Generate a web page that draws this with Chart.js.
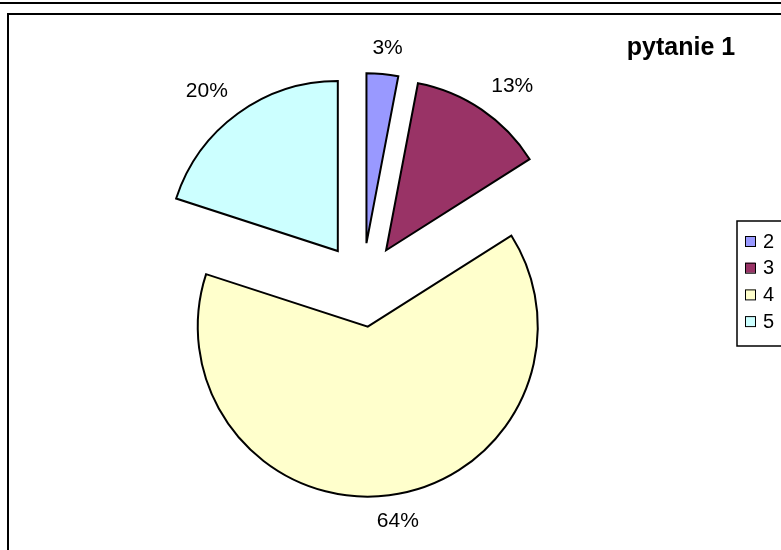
<!DOCTYPE html>
<html>
<head>
<meta charset="utf-8">
<script src="https://cdn.jsdelivr.net/npm/chart.js@4/dist/chart.umd.min.js"></script>
<style>
    body { margin: 0; background: #fff; }
    #wrap { position: relative; width: 781px; height: 550px; }
</style>
</head>
<body>
<div id="wrap"><canvas id="chart" width="781" height="550"></canvas></div>
<script>
// dane z wykresu
const categories = ['2', '3', '4', '5'];
const values = [3, 13, 64, 20];
const colors = ['#9999FF', '#993366', '#FFFFCC', '#CCFFFF'];
const chartTitle = 'pytanie 1';

const pieRadius = 170;
const explode = 42;

// rama wokół wykresu (jak w Excelu)
const framePlugin = {
    id: 'frame',
    beforeDraw(chart) {
        const ctx = chart.ctx;
        ctx.save();
        ctx.fillStyle = '#fff';
        ctx.fillRect(0, 0, chart.width, chart.height);
        ctx.strokeStyle = '#000';
        ctx.lineWidth = 2;
        ctx.beginPath();
        ctx.moveTo(0, 3);
        ctx.lineTo(chart.width, 3);
        ctx.moveTo(8, chart.height + 5);
        ctx.lineTo(8, 14);
        ctx.lineTo(chart.width + 5, 14);
        ctx.stroke();
        ctx.restore();
    }
};

// Chart.js przy offset zmienia promien i kat wycinka - tu to wylaczamy,
// zeby wszystkie wycinki mialy ten sam promien i pelny kat
const radiusFix = {
    id: 'radiusFix',
    beforeDatasetsDraw(chart) {
        const meta = chart.getDatasetMeta(0);
        meta.data.forEach(arc => {
            arc.circumference = Math.PI / 2;
            arc.outerRadius = pieRadius;
        });
    }
};

const labelsPlugin = {
    id: 'pctLabels',
    afterDraw(chart) {
        const ctx = chart.ctx;
        const meta = chart.getDatasetMeta(0);
        ctx.save();
        ctx.font = '21px "Liberation Sans", Arial, sans-serif';
        ctx.fillStyle = '#000';
        ctx.textAlign = 'center';
        ctx.textBaseline = 'middle';
        const clamp = v => Math.max(-1, Math.min(1, v));
        meta.data.forEach((arc, i) => {
            const mid = (arc.startAngle + arc.endAngle) / 2;
            const dx = Math.cos(mid), dy = Math.sin(mid);
            const text = values[i] + '%';
            const w = ctx.measureText(text).width;
            const h = 18;
            const dist = explode + pieRadius + 17;
            const x = arc.x + dx * dist + clamp(dx * 2.5) * w / 2;
            const y = arc.y + dy * dist + clamp(dy * 2.5) * h / 2;
            ctx.fillText(text, x, y);
        });

        // tytuł
        ctx.font = 'bold 25px "Liberation Sans", Arial, sans-serif';
        ctx.fillText(chartTitle, 681, 48);

        // legenda
        ctx.strokeStyle = '#000';
        ctx.lineWidth = 1.5;
        ctx.beginPath();
        ctx.moveTo(chart.width + 5, 221);
        ctx.lineTo(737, 221);
        ctx.lineTo(737, 346);
        ctx.lineTo(chart.width + 5, 346);
        ctx.stroke();
        ctx.font = '20px "Liberation Sans", Arial, sans-serif';
        ctx.textAlign = 'left';
        categories.forEach((c, i) => {
            const y = 241 + i * 26.7;
            ctx.fillStyle = colors[i];
            ctx.fillRect(745, y - 5, 10, 10);
            ctx.lineWidth = 1;
            ctx.strokeRect(745.5, y - 4.5, 10, 10);
            ctx.fillStyle = '#000';
            ctx.fillText(c, 763, y + 1);
        });
        ctx.restore();
    }
};

new Chart(document.getElementById('chart'), {
    type: 'pie',
    data: {
        labels: categories,
        datasets: [{
            data: values,
            backgroundColor: colors,
            borderColor: '#000',
            borderWidth: 2,
            borderJoinStyle: 'miter',
            offset: explode * 4
        }]
    },
    options: {
        responsive: false,
        animation: false,
        radius: pieRadius,
        layout: { padding: { left: 0, right: 56, top: 20, bottom: 0 } },
        plugins: {
            legend: { display: false },
            tooltip: { enabled: false }
        }
    },
    plugins: [framePlugin, radiusFix, labelsPlugin]
});
</script>
</body>
</html>
